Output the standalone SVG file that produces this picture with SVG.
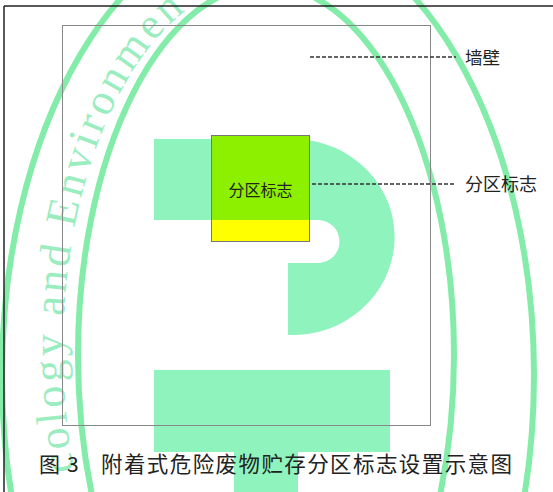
<svg xmlns="http://www.w3.org/2000/svg" width="553" height="492" viewBox="0 0 553 492">
  <style>
    .wm { fill: #8ef3bd; }
    .ring { fill: none; stroke: #84eca9; stroke-width: 6; }
    .wmtext { fill: #9aedbf; font-family: "Liberation Serif", serif; font-size: 44px; letter-spacing: 3.5px; }
    .lbl { font-family: "Noto Sans CJK SC", "Noto Sans", sans-serif; fill: #222; }
    .dash { stroke: #333; stroke-width: 1.5; stroke-dasharray: 4 2; fill: none; }
  </style>
  <defs>
    <path id="ringPath" d="M 266 720 A 203 370 0 0 1 63 350 A 203 370 0 0 1 469 350"/>
  </defs>
  <rect width="553" height="492" fill="#ffffff"/>

  <g id="watermark">
    <ellipse class="ring" cx="268" cy="375" rx="266" ry="452"/>
    <ellipse class="ring" cx="266" cy="355" rx="188" ry="370"/>
    <path class="wm" d="M154 139 H297 A102 98 0 0 1 288 335 V263 H318 A21.5 21.5 0 0 0 318 220 H154 Z"/>
    <path class="wm" d="M154 370 H390 V452 H298 V492 H234 V452 H154 Z"/>
    <text class="wmtext"><textPath href="#ringPath" startOffset="338">cology and Environmen</textPath></text>
  </g>

  <g id="frame">
    <line x1="4" y1="6" x2="553" y2="6" stroke="#222" stroke-width="1.5"/>
    <line x1="4" y1="6" x2="4" y2="492" stroke="#222" stroke-width="1.5"/>
  </g>

  <g id="wall">
    <rect x="62.5" y="25.5" width="368" height="400" fill="none" stroke="#888" stroke-width="1"/>
  </g>

  <g id="sign">
    <rect x="211" y="135" width="99" height="85" fill="#8cf000"/>
    <rect x="211" y="220" width="99" height="22" fill="#ffff00"/>
    <rect x="211.5" y="135.5" width="98" height="106" fill="none" stroke="#777" stroke-width="1"/>
    <text class="lbl" x="260.5" y="196" font-size="16" text-anchor="middle">分区标志</text>
  </g>

  <g id="connectors">
    <line class="dash" x1="310" y1="57" x2="456" y2="57"/>
    <line class="dash" x1="312" y1="184" x2="456" y2="184"/>
  </g>

  <g id="label-wall">
    <text class="lbl" x="465" y="63.5" font-size="17.5">墙壁</text>
  </g>
  <g id="label-sign">
    <text class="lbl" x="465" y="191" font-size="18">分区标志</text>
  </g>

  <g id="caption">
    <text class="lbl" x="39" y="472" font-size="21">图</text>
    <text class="lbl" x="67" y="472" font-size="21">3</text>
    <text class="lbl" x="101" y="472" font-size="21.5" textLength="411" lengthAdjust="spacing">附着式危险废物贮存分区标志设置示意图</text>
  </g>
</svg>
